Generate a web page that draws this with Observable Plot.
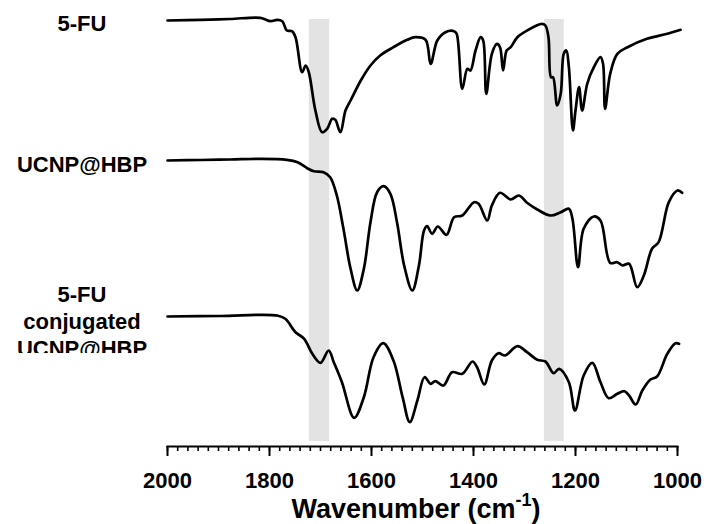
<!DOCTYPE html>
<html>
<head>
<meta charset="utf-8">
<script src="https://cdn.jsdelivr.net/npm/d3@7"></script>
<script src="https://cdn.jsdelivr.net/npm/@observablehq/plot@0.6"></script>
<style>
  body { margin: 0; background: #fff; }
  #wrap { position: relative; width: 704px; height: 524px; font-family: "Liberation Sans", Arial, sans-serif; }
  .lbl { position: absolute; left: 0; width: 164px; text-align: center; font-weight: bold; font-size: 22px; line-height: 27px; color: #000; overflow: hidden; }
  #xtitle { position: absolute; left: 166px; width: 500px; text-align: center; font-weight: bold; font-size: 27px; line-height: 26px; top: 496px; color: #000; white-space: nowrap; }
  #xtitle sup { font-size: 18px; position: relative; top: -2px; vertical-align: super; line-height: 0; }
</style>
</head>
<body>
<div id="wrap">
  <div id="chart"></div>
</div>
<script>
// Series names (top to bottom)
const seriesNames = ["5-FU", "UCNP@HBP", "5-FU conjugated UCNP@HBP"];
// Vertical offset of each spectrum (relative transmittance units)
const seriesOffsets = [-20, -160, -316];

// Wavenumbers (cm-1) and relative transmittance for each spectrum
const fuWn = [2000,1935,1877,1818,1798,1785,1775,1766,1756,1749,1736,1729,1723,1710,1697,1687,1677,1671,1661,1651,1641,1621,1602,1583,1557,1530,1514,1494,1484,1471,1455,1438,1433,1422,1412,1406,1396,1386,1381,1375,1364,1354,1348,1342,1335,1327,1314,1295,1266,1259,1253,1248,1244,1236,1229,1223,1218,1213,1205,1200,1193,1187,1177,1164,1151,1146,1142,1132,1118,1098,1060,1020,994];
const fuT  = [0,0.7,1.5,2.7,-0.7,0.7,-0.7,-10,-10.7,-16.7,-51.7,-45,-51.7,-90,-111.7,-108.3,-98.3,-99.3,-111.7,-90,-80,-60,-45,-35,-26.7,-19.3,-16.7,-19.3,-43.3,-20,-11.7,-10.7,-13.3,-68.3,-48.3,-50,-30,-16.7,-20,-73.3,-33.3,-23.3,-26.7,-50,-30,-26.7,-16.7,-10,-3.3,-5,-16.7,-56.7,-56.7,-85,-73.3,-33.3,-30,-46.7,-110,-90,-66.7,-90,-63.3,-46.7,-36.7,-43.3,-88.3,-53.3,-33.3,-26.7,-18.3,-13.3,-9.3];

const hbpWn = [2000,1935,1877,1818,1766,1745,1726,1713,1694,1681,1668,1655,1641,1628,1615,1602,1589,1576,1563,1550,1536,1520,1507,1497,1491,1481,1470,1453,1438,1422,1399,1390,1373,1364,1348,1327,1311,1295,1275,1249,1229,1213,1206,1195,1184,1164,1151,1132,1118,1108,1095,1079,1066,1050,1037,1017,1000,991];
const hbpT  = [0,0.5,1,1.7,0.7,-1.7,-7.7,-10.7,-11.7,-16.7,-35,-68.3,-108.3,-130,-108.3,-61.7,-31.7,-25.7,-33.3,-61.7,-105,-130,-105,-70,-65.7,-73.3,-66,-74.3,-56.7,-55,-41.7,-43.3,-60,-45,-32.3,-39,-35,-42.3,-49,-55,-51.7,-48.3,-58.3,-106.7,-68.3,-56,-60,-102.3,-101.7,-105,-103.3,-126.7,-115,-88.3,-81.7,-41.7,-30,-32.3];

const conjWn = [2000,1896,1785,1769,1749,1732,1716,1700,1684,1674,1658,1634,1615,1596,1577,1557,1539,1525,1510,1496,1484,1475,1459,1442,1422,1402,1393,1379,1364,1351,1338,1314,1295,1275,1259,1243,1232,1213,1201,1184,1167,1151,1135,1118,1104,1095,1082,1069,1053,1040,1020,1004,997];
const conjT  = [0,0.5,1,-2.3,-15.7,-22.3,-37.3,-46.3,-34,-45.7,-65.7,-101.3,-80.7,-40.7,-26.7,-44,-80.7,-105.7,-84,-60.7,-67.3,-64.7,-69,-55.7,-57.3,-45,-50.7,-68,-44,-36.7,-39,-29.7,-35.7,-43.3,-45,-56.7,-52.3,-65.7,-94,-59,-46.3,-65.7,-81.7,-77.3,-74.7,-79,-88,-74,-63,-60,-37.3,-26.7,-27.3];

// Highlighted wavenumber bands (cm-1)
const bandFrom = [1722, 1261];
const bandTo   = [1682, 1222];

// X axis ticks
const majorTicks = [2000, 1800, 1600, 1400, 1200, 1000];
const minorTicks = d3.range(1000, 2001, 20);

// Build table for the library
const wnList = [fuWn, hbpWn, conjWn];
const tList = [fuT, hbpT, conjT];
const rows = [];
seriesNames.forEach((name, i) => {
  wnList[i].forEach((wn, j) => rows.push({series: name, wn, t: tList[i][j] + seriesOffsets[i]}));
});
const bands = bandFrom.map((f, i) => ({from: f, to: bandTo[i]}));

const chart = Plot.plot({
  width: 704,
  height: 524,
  marginLeft: 167,
  marginRight: 27,
  marginTop: 0,
  marginBottom: 78,
  style: {fontFamily: "'Liberation Sans', Arial, sans-serif", background: "#fff", overflow: "visible"},
  x: {domain: [2000, 1000], label: null},
  y: {domain: [-446, 0], axis: null},
  marks: [
    Plot.rect(bands, {x1: "from", x2: "to", fill: "#e3e3e3", insetTop: 19, insetBottom: 5}),
    Plot.line(rows, {x: "wn", y: "t", z: "series", stroke: "#000", strokeWidth: 2.7, curve: "catmull-rom"}),
    Plot.frame({anchor: "bottom", stroke: "#000", strokeWidth: 2}),
    Plot.axisX({ticks: minorTicks, tickSize: 5, text: null, stroke: "#000", strokeWidth: 1.6, label: null}),
    Plot.axisX({ticks: majorTicks, tickSize: 10, tickPadding: 16, tickFormat: d3.format("d"), fontSize: 22, fontWeight: "bold", fill: "#000", stroke: "#000", strokeWidth: 2, label: null})
  ]
});
document.getElementById("chart").appendChild(chart);

// Series labels and axis title
const wrap = document.getElementById("wrap");
const labelSpecs = [
  {text: ["5-FU"], top: 10, height: 30},
  {text: ["UCNP@HBP"], top: 151, height: 30},
  {text: ["5-FU", "conjugated", "UCNP@HBP"], top: 281, height: 72}
];
labelSpecs.forEach(s => {
  const d = document.createElement("div");
  d.className = "lbl";
  d.style.top = s.top + "px";
  d.style.height = s.height + "px";
  d.innerHTML = s.text.join("<br>");
  wrap.appendChild(d);
});
const t = document.createElement("div");
t.id = "xtitle";
t.innerHTML = "Wavenumber (cm<sup>-1</sup>)";
wrap.appendChild(t);
</script>
</body>
</html>
